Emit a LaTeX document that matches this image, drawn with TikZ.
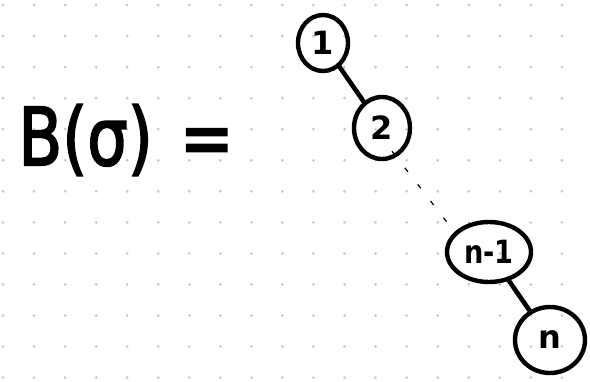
\documentclass[tikz,border=0pt]{standalone}
\usepackage{fontspec}
\newfontfamily\handfont[FakeBold=2.5]{DejaVu Sans}
\newfontfamily\nodefont{DejaVu Sans}
\usetikzlibrary{shapes.geometric}
\tikzset{
  griddot/.style={fill=black!22, draw=none},
  treenode/.style={ellipse, draw=black, line width=4.4pt, inner sep=0pt,
     font=\nodefont\bfseries\fontsize{32}{34}\selectfont},
  treeedge/.style={draw=black, line width=4.6pt, line cap=round},
  gapedge/.style={draw=black, line width=1.2pt, dash pattern=on 5pt off 16pt}
}
\begin{document}
\begin{tikzpicture}[x=1pt,y=-1pt]
\useasboundingbox (0,0) rectangle (590,381);
\fill[white] (0,0) rectangle (590,381);
\foreach \i in {0,...,18}{
  \foreach \j in {0,...,12}{
    \fill[griddot] ({3+31.05*\i},{5+31.05*\j}) circle (1.5);
  }
}
\node[inner sep=0pt, anchor=center] (lbl) at (126,140)
  {\scalebox{0.8}[1]{\handfont\fontsize{80}{84}\selectfont B(σ)\hspace{34pt}=}};
\node[treenode, minimum width=50pt, minimum height=56pt] (n1) at (323,43) {1};
\node[treenode, minimum width=56pt, minimum height=62pt] (n2) at (382,128) {2};
\node[treenode, minimum width=84pt, minimum height=60pt] (n3) at (489,252) {\scalebox{0.85}[1]{n-1}};
\node[treenode, minimum width=70pt, minimum height=66pt] (n4) at (550,340) {n};
\draw[treeedge] (n1) -- (n2);
\draw[gapedge] ([xshift=10pt,yshift=10pt]n2.south) -- ([xshift=-3pt,yshift=-3pt]n3.north west);
\draw[treeedge] (n3) -- (n4);
\end{tikzpicture}
\end{document}
